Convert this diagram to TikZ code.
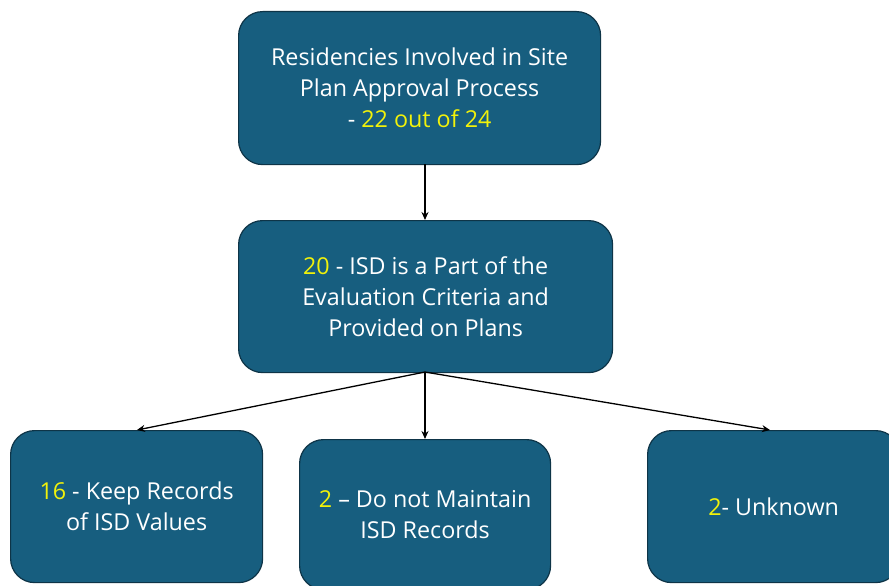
\documentclass[tikz,border=0pt]{standalone}
\usepackage{fontspec}
\setmainfont{Open Sans}
\usetikzlibrary{arrows.meta}
\definecolor{boxfill}{HTML}{175E7F}
\definecolor{boxline}{HTML}{0E3447}
\definecolor{numyel}{HTML}{F2F20A}
\begin{document}
\begin{tikzpicture}[x=1pt,y=-1pt,
  box/.style={draw=boxline,line width=1.2pt,fill=boxfill,rounded corners=24pt,text=white,align=center,font=\fontsize{23.3}{31}\selectfont,anchor=north west,inner sep=0pt},
  conn/.style={-{Stealth[length=8pt,width=7pt]},line width=1.3pt,black}]
\useasboundingbox (0,0) rectangle (889,586);
\node[box,minimum width=362pt,minimum height=153pt] (top) at (238,11) {Residencies Involved in Site\\Plan Approval Process\\- \textcolor{numyel}{22 out of 24}};
\node[box,minimum width=374pt,minimum height=152pt] (mid) at (238,220) {\textcolor{numyel}{20} - ISD is a Part of the\\Evaluation Criteria and\\Provided on Plans};
\node[box,minimum width=252pt,minimum height=152pt] (bl) at (10,430) {\textcolor{numyel}{16} - Keep Records\\of ISD Values};
\node[box,minimum width=251pt,minimum height=150pt] (bm) at (299,439) {\textcolor{numyel}{2} – Do not Maintain\\ISD Records};
\node[box,minimum width=252pt,minimum height=152pt] (br) at (647,430) {\textcolor{numyel}{2}- Unknown};
\coordinate (tb) at (425,164);
\coordinate (mt) at (425,220);
\coordinate (mb) at (425,372);
\coordinate (blt) at (137,430);
\coordinate (bmt) at (425,439);
\coordinate (brt) at (770,430);
\draw[conn] (tb) -- (mt);
\draw[conn] (mb) -- (blt);
\draw[conn] (mb) -- (bmt);
\draw[conn] (mb) -- (brt);
\end{tikzpicture}
\end{document}
